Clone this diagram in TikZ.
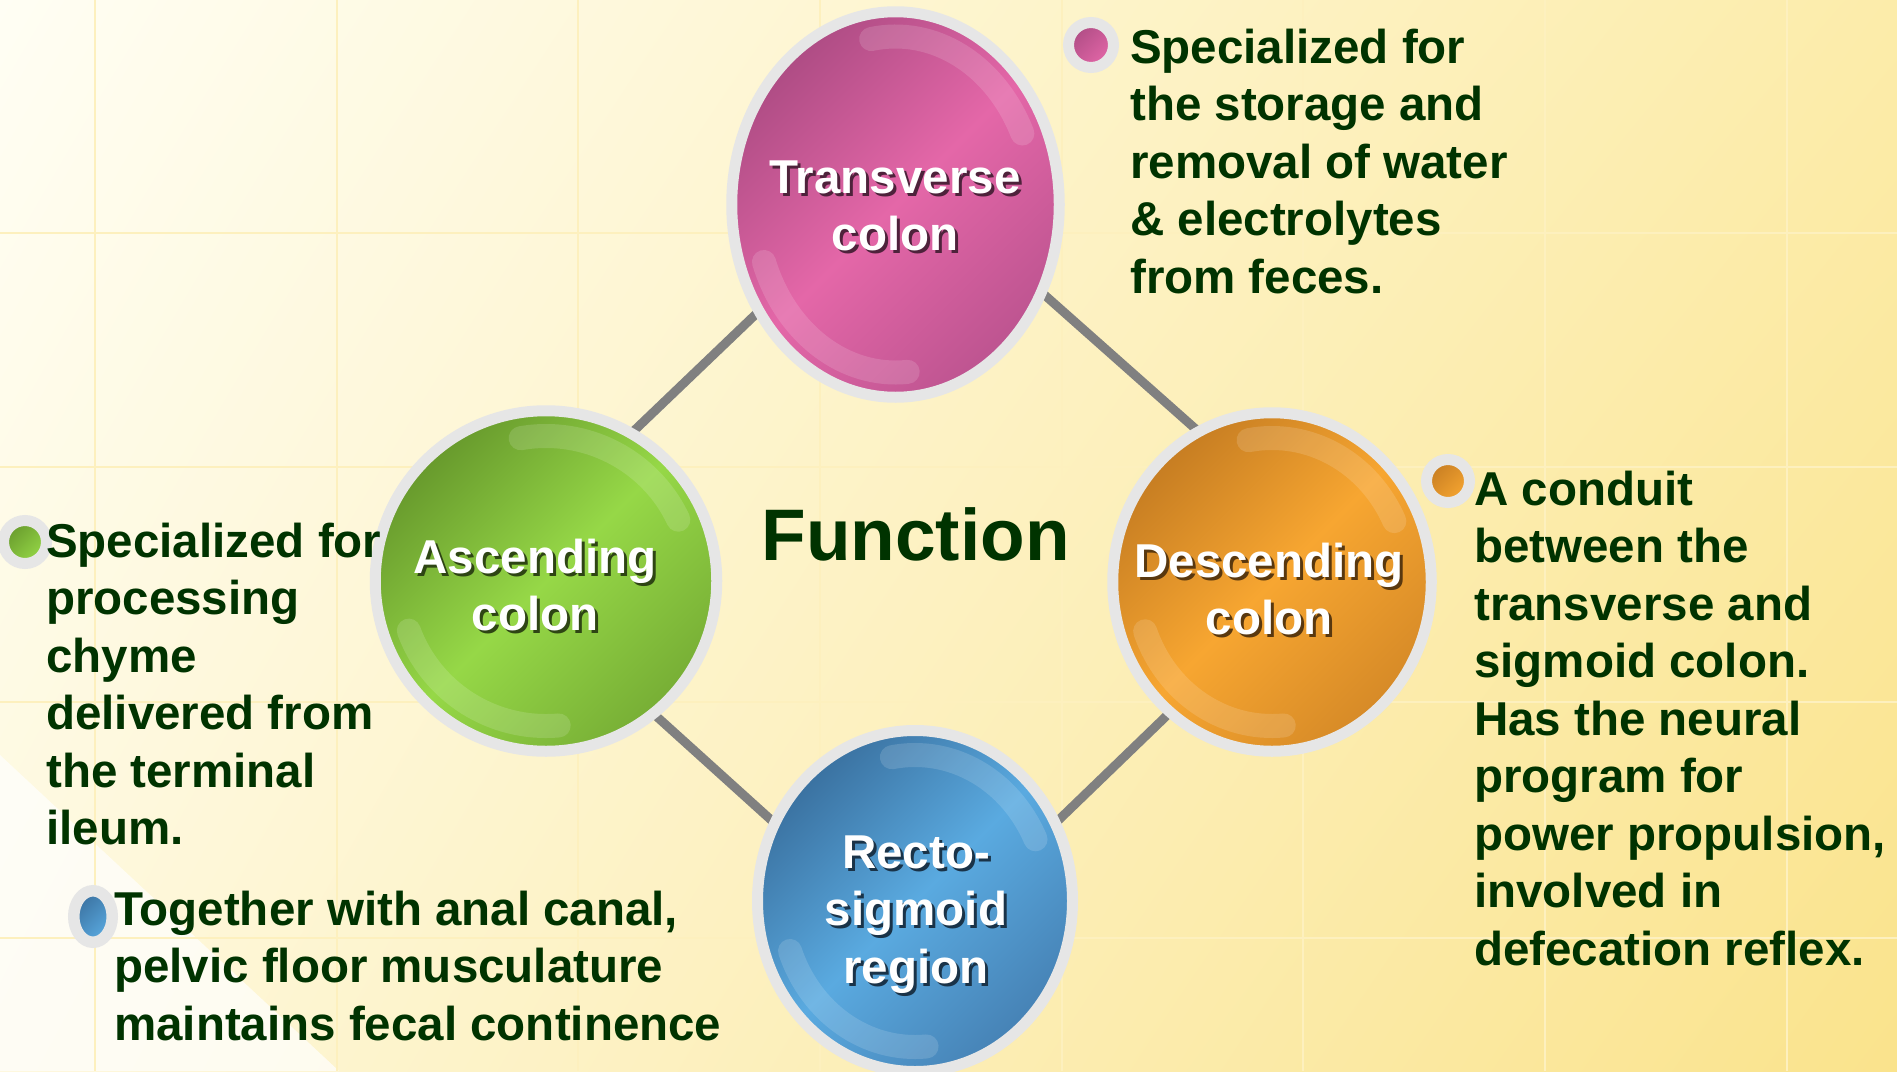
\documentclass[tikz,border=0pt]{standalone}
\usepackage{fontspec}
\setmainfont{Liberation Sans}
\usetikzlibrary{shapes.geometric,shadings}
\pgfdeclarelayer{bg}
\pgfdeclarelayer{lines}
\pgfsetlayers{bg,lines,main}
\definecolor{txtgreen}{HTML}{003300}
\definecolor{ringgray}{HTML}{E6E6E6}
\definecolor{conngray}{HTML}{808080}
\definecolor{gridc}{HTML}{FDF0BE}
\definecolor{bgUL}{HTML}{FFFEF4}
\definecolor{bgUR}{HTML}{FCECAA}
\definecolor{bgLL}{HTML}{FEF8DC}
\definecolor{bgLR}{HTML}{FAE38C}
\definecolor{pinkD}{HTML}{AE4C84}
\definecolor{pinkM}{HTML}{E467A8}
\definecolor{pinkB}{HTML}{BD5490}
\definecolor{greenD}{HTML}{67992C}
\definecolor{greenM}{HTML}{96D847}
\definecolor{greenB}{HTML}{77AE35}
\definecolor{orangeD}{HTML}{C67D22}
\definecolor{orangeM}{HTML}{F7A631}
\definecolor{orangeB}{HTML}{D68A27}
\definecolor{blueD}{HTML}{3A71A0}
\definecolor{blueM}{HTML}{5AAAE0}
\definecolor{blueB}{HTML}{4682B5}
\newcommand\shtxt[2]{\leavevmode\rlap{\hspace{3pt}\raisebox{-3pt}{\textcolor{#1}{#2}}}#2}
\newcommand\bodyfnt{\fontsize{47.5}{57.5}\selectfont\bfseries}
\newcommand\glossarcs[3]{%
  \draw[glossy] ([shift={(25:#2 and #3)}]#1.center) arc[start angle=25, end angle=100, x radius=#2, y radius=#3];
  \draw[glossy] ([shift={(200:#2 and #3)}]#1.center) arc[start angle=200, end angle=275, x radius=#2, y radius=#3];}
\begin{document}
\begin{tikzpicture}[x=1pt,y=-1pt,
  bubble/.style n args={3}{ellipse, draw=ringgray, line width=11pt, inner sep=0pt, outer sep=0pt,
     top color=#1, bottom color=#3, middle color=#2, shading angle=45},
  dot/.style n args={2}{ellipse, draw=ringgray, line width=11pt, inner sep=0pt, outer sep=0pt,
     top color=#1, bottom color=#2, shading angle=45},
  body/.style={text=txtgreen, font=\bodyfnt, inner sep=0pt, anchor=base west},
  clabel/.style={text=white, font=\bodyfnt, inner sep=0pt, anchor=base},
  conn/.style={draw=conngray, line width=9pt},
  glossy/.style={draw=white, opacity=0.14, line width=24pt, line cap=round},
  gridline/.style={draw=gridc, line width=2.5pt}]
\useasboundingbox (0,0) rectangle (1897,1071);

% ---------- bubbles ----------
\node[bubble={pinkD}{pinkM}{pinkB}, minimum width=327.5pt, minimum height=385.5pt] (T) at (895.5,204.5) {};
\node[bubble={greenD}{greenM}{greenB}, minimum width=341.5pt, minimum height=340.5pt] (A) at (546,581) {};
\node[bubble={orangeD}{orangeM}{orangeB}, minimum width=318.5pt, minimum height=338.5pt] (D) at (1272,582) {};
\node[bubble={blueD}{blueM}{blueB}, minimum width=315pt, minimum height=341pt] (R) at (915,901) {};

% gloss highlights
\glossarcs{T}{140pt}{168pt}
\glossarcs{A}{146pt}{145pt}
\glossarcs{D}{135pt}{144pt}
\glossarcs{R}{133pt}{146pt}

% ---------- background and connectors ----------
\begin{pgfonlayer}{bg}
  \shade[upper left=bgUL, upper right=bgUR, lower left=bgLL, lower right=bgLR] (0,0) rectangle (1897,1071);
  \fill[white, opacity=0.7] (0,755) -- (339,1071) -- (0,1071) -- cycle;
  \foreach \x in {95,337,578,820,1062,1303,1545,1787} \draw[gridline] (\x,0) -- (\x,1071);
  \foreach \y in {233,467,702,938} \draw[gridline] (0,\y) -- (1897,\y);
\end{pgfonlayer}
\begin{pgfonlayer}{lines}
  \draw[conn] (T.218.8) -- (A.60.5);
  \draw[conn] (T.329.1) -- (D.116.1);
  \draw[conn] (A.309.4) -- (R.151.0);
  \draw[conn] (D.232.2) -- (R.29.5);
\end{pgfonlayer}

% ---------- bubble labels ----------
\node[clabel] (Tl) at (895,193) {\parbox[t]{400pt}{\centering\shtxt{pinkD!45!black}{Transverse}\\\shtxt{pinkD!45!black}{colon}}};
\node[clabel] (Al) at (535,573) {\parbox[t]{400pt}{\centering\shtxt{greenD!45!black}{Ascending}\\\shtxt{greenD!45!black}{colon}}};
\node[clabel] (Dl) at (1269,577) {\parbox[t]{400pt}{\centering\shtxt{orangeD!45!black}{Descending}\\\shtxt{orangeD!45!black}{colon}}};
\node[clabel] (Rl) at (916,868) {\parbox[t]{400pt}{\centering\shtxt{blueD!45!black}{Recto-}\\\shtxt{blueD!45!black}{sigmoid}\\\shtxt{blueD!45!black}{region}}};

% ---------- centre title ----------
\node[text=txtgreen, font=\fontsize{73}{80}\selectfont\bfseries, inner sep=0pt, anchor=base] (fn) at (915.5,560) {Function};

% ---------- bullets ----------
\node[dot={pinkD}{pinkM}, minimum width=45pt, minimum height=45pt] (bT) at (1091,45) {};
\node[dot={greenD}{greenM}, minimum width=43pt, minimum height=43pt] (bA) at (25,542) {};
\node[dot={orangeD}{orangeM}, minimum width=43pt, minimum height=43pt] (bD) at (1448,481) {};
\node[dot={blueD}{blueM}, minimum width=38.5pt, minimum height=51.5pt, line width=11.5pt] (bR) at (93,916.5) {};

% ---------- descriptions ----------
\node[body] (tT) at (1130,63) {\parbox[t]{560pt}{\raggedright Specialized for\\the storage and\\removal of water\\\& electrolytes\\from feces.}};
\node[body] (tA) at (46,557) {\parbox[t]{560pt}{\raggedright Specialized for\\processing\\chyme\\delivered from\\the terminal\\ileum.}};
\node[body] (tD) at (1474,505) {\parbox[t]{560pt}{\raggedright A conduit\\between the\\transverse and\\sigmoid colon.\\Has the neural\\program for\\power propulsion,\\involved in\\defecation reflex.}};
\node[body] (tR) at (114,925) {\parbox[t]{700pt}{\raggedright Together with anal canal,\\pelvic floor musculature\\maintains fecal continence}};
\end{tikzpicture}
\end{document}
